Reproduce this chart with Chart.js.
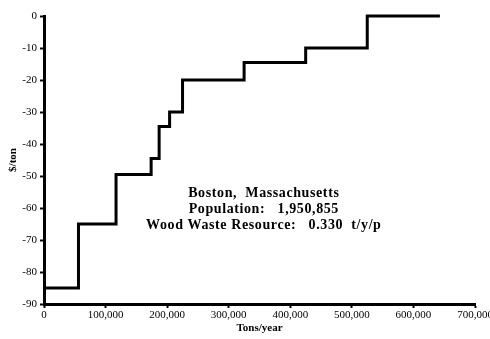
<!DOCTYPE html>
<html>
<head>
<meta charset="utf-8">
<script src="https://cdn.jsdelivr.net/npm/chart.js@4"></script>
<style>
  html, body { margin: 0; padding: 0; background: #fff; }
  #wrap { width: 490px; height: 339px; }
</style>
</head>
<body>
<div id="wrap"><canvas id="supplyCurve" width="490" height="339"></canvas></div>
<script>
// cost steps: each entry starts a new price level at that tonnage
const tonsPerYear = [0, 56000, 117000, 174000, 187000, 204000, 225000, 325000, 425000, 525000, 643000];
const dollarsPerTon = [-85, -65, -49.5, -44.5, -34.5, -30, -20, -14.5, -10, 0, 0];

const xTicks = [0, 100000, 200000, 300000, 400000, 500000, 600000, 700000];
const yTicks = [-90, -80, -70, -60, -50, -40, -30, -20, -10, 0];

const noteLines = [
  'Boston,  Massachusetts',
  'Population:   1,950,855',
  'Wood Waste Resource:   0.330  t/y/p'
];

const serif = '"Liberation Serif", "Times New Roman", serif';

(function(){
  const c = document.getElementById('supplyCurve');

  // centred annotation block inside the plot
  const notePlugin = {
    id: 'note',
    afterDraw(chart){
      const ctx = chart.ctx;
      const x = chart.scales.x.getPixelForValue(357000);
      let y = chart.scales.y.getPixelForValue(-55.4);
      ctx.save();
      ctx.fillStyle = '#000';
      ctx.font = 'bold 14px ' + serif;
      ctx.letterSpacing = '0.6px';
      ctx.textAlign = 'center';
      ctx.textBaseline = 'middle';
      noteLines.forEach(t => { ctx.fillText(t, x, y); y += 16; });
      ctx.restore();
    }
  };

  new Chart(c, {
    type: 'line',
    data: {
      datasets: [{
        data: tonsPerYear.map((t, i) => ({ x: t, y: dollarsPerTon[i] })),
        stepped: 'before',
        borderColor: '#000',
        borderWidth: 3,
        pointRadius: 0,
        fill: false,
        clip: false
      }]
    },
    options: {
      responsive: false,
      animation: false,
      layout: { padding: { top: 16, right: 15, bottom: 0, left: 0 } },
      plugins: { legend: { display: false }, tooltip: { enabled: false } },
      scales: {
        x: {
          type: 'linear',
          min: 0, max: 700000,
          afterBuildTicks: s => { s.ticks = xTicks.map(v => ({ value: v })); },
          afterFit: s => { s.height = 35; s.paddingLeft = 0; s.paddingRight = 0; },
          border: { color: '#000', width: 3 },
          grid: { drawOnChartArea: false, color: '#000', tickLength: 4, tickWidth: 2 },
          ticks: {
            color: '#000', padding: 1, maxRotation: 0,
            font: { family: serif, size: 11 },
            callback: v => v.toLocaleString('en-US')
          },
          title: {
            display: true, text: 'Tons/year', color: '#000',
            font: { family: serif, size: 11, weight: 'bold' },
            padding: { top: 0, bottom: 4 }
          }
        },
        y: {
          min: -90, max: 0,
          afterBuildTicks: s => { s.ticks = yTicks.map(v => ({ value: v })); },
          afterFit: s => { s.width = 44; s.paddingTop = 0; s.paddingBottom = 0; },
          border: { color: '#000', width: 3 },
          grid: { drawOnChartArea: false, color: '#000', tickLength: 4, tickWidth: 2 },
          ticks: {
            color: '#000', padding: 3,
            font: { family: serif, size: 11 }
          },
          title: {
            display: true, text: '$/ton', color: '#000',
            font: { family: serif, size: 11, weight: 'bold' },
            padding: { top: 7, bottom: 0 }
          }
        }
      }
    },
    plugins: [notePlugin]
  });
})();
</script>
</body>
</html>
